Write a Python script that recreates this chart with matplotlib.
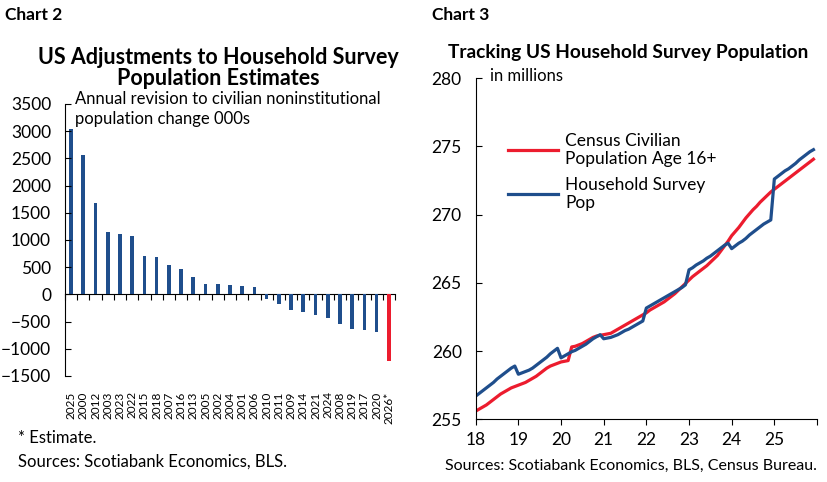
import numpy as np
import matplotlib
matplotlib.use('Agg')
import matplotlib.pyplot as plt

plt.rcParams['font.family'] = ['Lato', 'DejaVu Sans']

# Chart 2: annual revision to civilian noninstitutional population (000s), sorted
years = ['2025', '2000', '2012', '2003', '2023', '2022', '2015', '2018', '2007',
         '2016', '2013', '2005', '2002', '2004', '2001', '2006', '2010', '2011',
         '2009', '2014', '2021', '2024', '2008', '2019', '2017', '2020', '2026*']
revisions = [3040, 2570, 1680, 1150, 1110, 1075, 705, 685, 545,
             465, 315, 195, 195, 175, 160, 140, -90, -170,
             -285, -330, -370, -435, -535, -635, -650, -685, -1225]

# Chart 3: monthly population, millions, Jan 2018 - Dec 2025
census_pop = [
    255.60, 255.75, 255.90, 256.05, 256.25, 256.45, 256.65, 256.85, 257.00, 257.15, 257.30, 257.40,
    257.50, 257.60, 257.70, 257.85, 258.00, 258.15, 258.35, 258.55, 258.75, 258.90, 259.00, 259.10,
    259.20, 259.25, 259.30, 260.30, 260.35, 260.45, 260.55, 260.70, 260.85, 261.00, 261.10, 261.15,
    261.20, 261.25, 261.30, 261.45, 261.60, 261.75, 261.90, 262.05, 262.20, 262.35, 262.50, 262.65,
    262.80, 263.00, 263.15, 263.30, 263.45, 263.60, 263.80, 264.00, 264.20, 264.45, 264.70, 264.95,
    265.20, 265.45, 265.65, 265.85, 266.05, 266.25, 266.50, 266.75, 267.00, 267.35, 267.70, 268.05,
    268.45, 268.75, 269.05, 269.40, 269.75, 270.05, 270.35, 270.60, 270.90, 271.15, 271.40, 271.65,
    271.85, 272.05, 272.25, 272.45, 272.65, 272.85, 273.05, 273.25, 273.45, 273.65, 273.85, 274.05]
household_pop = [
    256.70, 256.90, 257.10, 257.30, 257.50, 257.70, 257.95, 258.15, 258.35, 258.55, 258.75, 258.90,
    258.30, 258.40, 258.50, 258.60, 258.75, 258.95, 259.15, 259.35, 259.55, 259.80, 260.00, 260.20,
    259.50, 259.65, 259.80, 259.95, 260.05, 260.20, 260.35, 260.50, 260.70, 260.90, 261.05, 261.20,
    260.90, 260.95, 261.00, 261.10, 261.20, 261.35, 261.50, 261.60, 261.75, 261.90, 262.05, 262.20,
    263.15, 263.30, 263.45, 263.60, 263.75, 263.90, 264.05, 264.20, 264.35, 264.50, 264.65, 264.85,
    265.95, 266.10, 266.30, 266.45, 266.60, 266.80, 266.95, 267.15, 267.35, 267.55, 267.75, 267.90,
    267.50, 267.70, 267.90, 268.05, 268.25, 268.50, 268.70, 268.90, 269.10, 269.30, 269.45, 269.60,
    272.60, 272.80, 273.00, 273.20, 273.35, 273.55, 273.75, 274.00, 274.20, 274.40, 274.60, 274.75]
year_ticks = [2018, 2019, 2020, 2021, 2022, 2023, 2024, 2025]
year_labels = ['18', '19', '20', '21', '22', '23', '24', '25']

BLUE = '#1f4e8c'
RED = '#ec1c2e'
W, H = 828, 482

fig = plt.figure(figsize=(W / 100, H / 100), dpi=100)

# ---------- Chart 2 ----------
ax1 = fig.add_axes([65 / W, 1 - 376 / H, 330 / W, 272 / H])
x = np.arange(len(years))
colors = [BLUE] * (len(years) - 1) + [RED]
ax1.bar(x, revisions, width=0.3, color=colors)
ax1.set_xlim(-0.5, len(years) - 0.5)
ax1.set_ylim(-1500, 3500)
ax1.set_yticks(np.arange(-1500, 3501, 500))
ax1.tick_params(axis='y', direction='in', length=4, labelsize=12.5, pad=10)
ax1.set_xticks(x)
ax1.set_xticklabels(years, rotation=90, fontsize=8.5)
ax1.tick_params(axis='x', length=0, pad=11)
for s in ['top', 'right', 'bottom']:
    ax1.spines[s].set_visible(False)

zero_ax = ax1.secondary_xaxis(0, transform=ax1.transData)
zero_ax.set_xticks(np.arange(-0.5, len(years), 1))
zero_ax.tick_params(axis='x', direction='out', length=4, labelbottom=False)

ax1.text(75 / W, 1 - 91 / H,
         'Annual revision to civilian noninstitutional\npopulation change 000s',
         transform=fig.transFigure, fontsize=12, va='top', ha='left', linespacing=1.3)

fig.text(5 / W, 1 - 15 / H, 'Chart 2', fontsize=12.5, fontweight='bold', va='center')
fig.text(218 / W, 1 - 68 / H, 'US Adjustments to Household Survey\nPopulation Estimates',
         fontsize=15.5, fontweight='bold', ha='center', va='center', linespacing=1.05)
fig.text(18 / W, 1 - 438 / H, '* Estimate.', fontsize=12, va='center')
fig.text(18 / W, 1 - 462 / H, 'Sources: Scotiabank Economics, BLS.', fontsize=12, va='center')

# ---------- Chart 3 ----------
ax2 = fig.add_axes([475.7 / W, 1 - 419.3 / H, 341.3 / W, 341.3 / H])
t = 2018 + np.arange(len(census_pop)) / 12
ax2.plot(t, census_pop, color=RED, lw=2.3, label='Census Civilian\nPopulation Age 16+')
ax2.plot(t, household_pop, color=BLUE, lw=2.3, label='Household Survey\nPop')
ax2.set_xlim(2018, 2026)
ax2.set_ylim(255, 280)
ax2.set_yticks(np.arange(255, 281, 5))
ax2.set_xticks(year_ticks + [2026])
ax2.set_xticklabels(year_labels + [''])
ax2.tick_params(axis='y', direction='in', length=4, labelsize=12.5, pad=10)
ax2.tick_params(axis='x', direction='out', length=4, labelsize=12.5, pad=5)
for s in ['top', 'right']:
    ax2.spines[s].set_visible(False)

ax2.legend(loc='upper left', bbox_to_anchor=(0.095, 0.84), frameon=False, fontsize=12.5,
           handlelength=2.9, handletextpad=0.4, labelspacing=0.55,
           borderpad=0, borderaxespad=0)
ax2.text(490 / W, 1 - 76 / H, 'in millions', transform=fig.transFigure,
         fontsize=12, va='center')

fig.text(432 / W, 1 - 15 / H, 'Chart 3', fontsize=12.5, fontweight='bold', va='center')
fig.text(628 / W, 1 - 52 / H, 'Tracking US Household Survey Population',
         fontsize=13.8, fontweight='bold', ha='center', va='center')
fig.text(445 / W, 1 - 466 / H, 'Sources: Scotiabank Economics, BLS, Census Bureau.',
         fontsize=11.5, va='center')

fig.savefig('out.png', dpi=100)
